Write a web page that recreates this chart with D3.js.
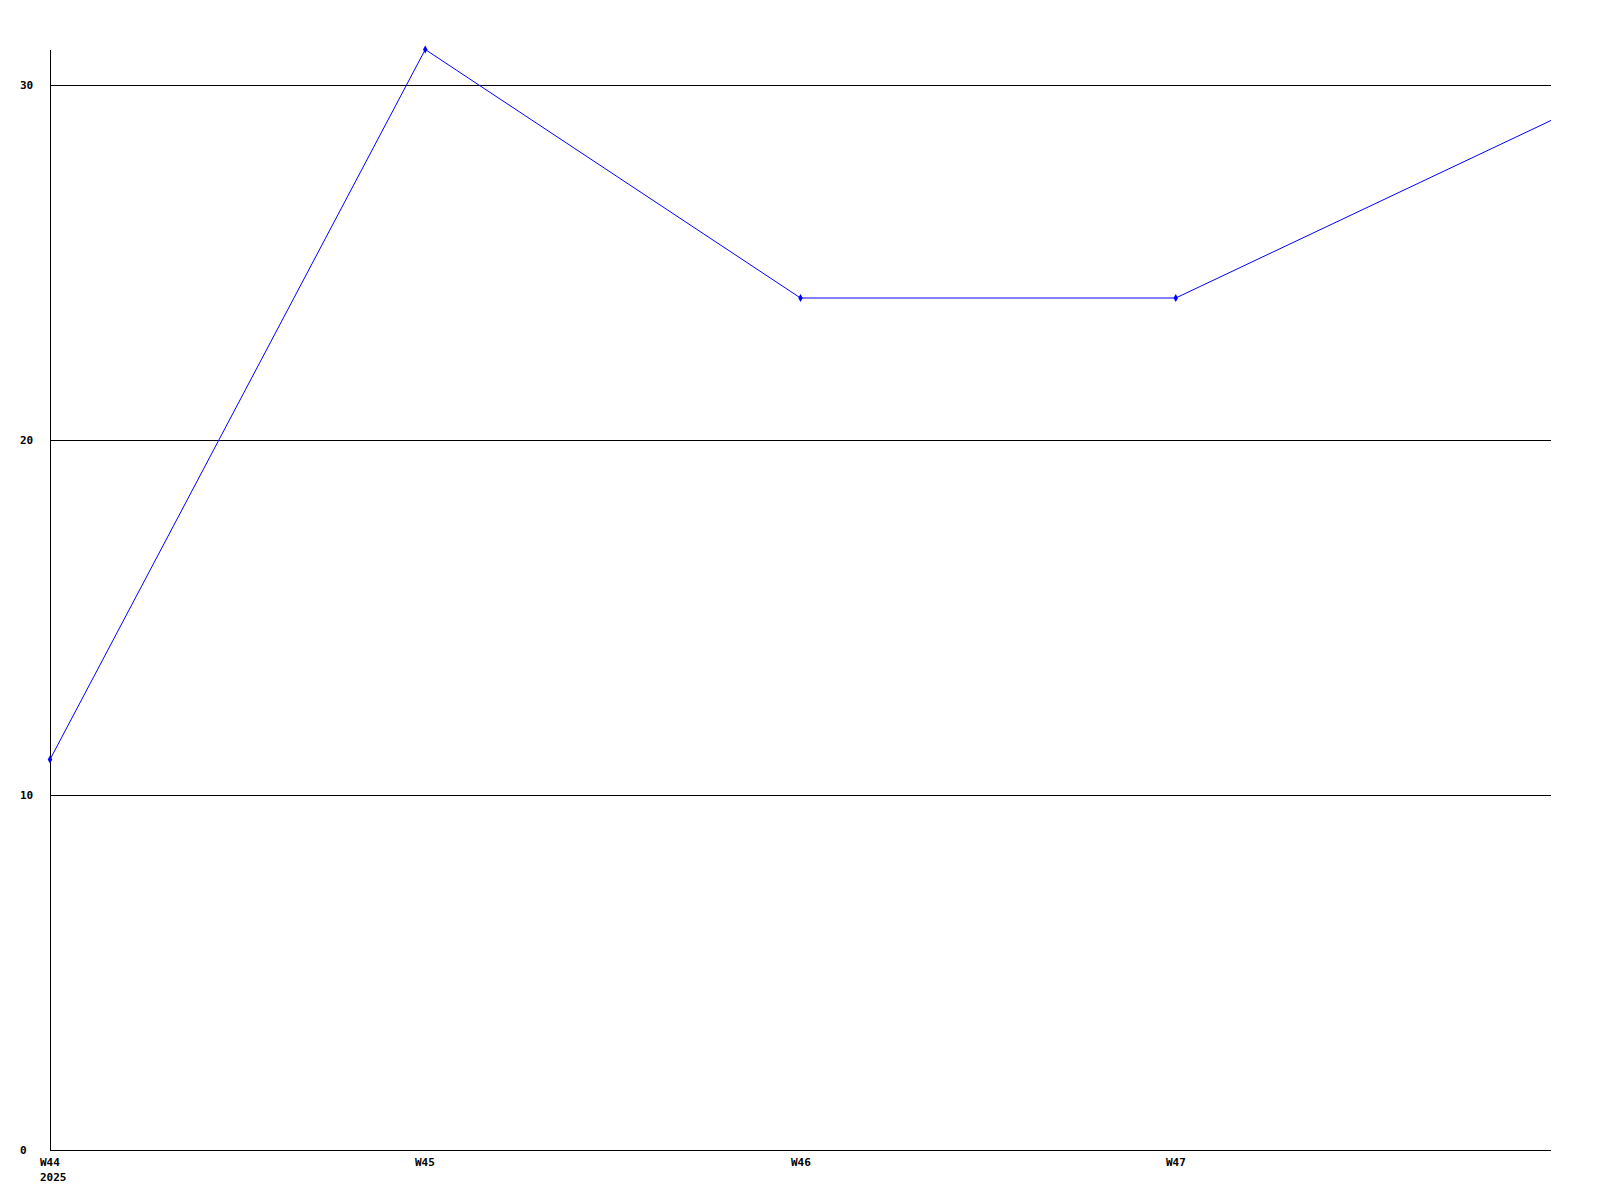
<!DOCTYPE html>
<html><head><meta charset="utf-8">
<script src="https://cdn.jsdelivr.net/npm/d3@7"></script>
<style>body{margin:0;background:#fff}svg{display:block}text{font-family:"DejaVu Sans Mono",monospace;font-size:11px;font-weight:bold;fill:#000}</style>
</head><body>
<script>
const categories = ["W44","W45","W46","W47","W48"];
const values = [11, 31, 24, 24, 29];
const yTicks = [0, 10, 20, 30];
const yearLabel = "2025";

const W = 1600, H = 1200;
const mLeft = 50, mRight = 1551, mTop = 50, mBottom = 1150;
const svg = d3.select("body").append("svg").attr("width", W).attr("height", H);

const x = d3.scaleLinear().domain([0, categories.length - 1]).range([mLeft, mRight]);
const y = d3.scaleLinear().domain([0, 31]).range([mBottom, mBottom - 31 * 35.5]);

// gridlines
svg.append("g").selectAll("line").data(yTicks.filter(d => d > 0)).join("line")
  .attr("x1", mLeft).attr("x2", mRight)
  .attr("y1", d => Math.round(y(d)) + 0.5).attr("y2", d => Math.round(y(d)) + 0.5)
  .attr("stroke", "#000").attr("stroke-width", 1);

// axes
svg.append("line").attr("x1", mLeft + 0.5).attr("x2", mLeft + 0.5).attr("y1", mTop).attr("y2", mBottom + 0.5).attr("stroke", "#000");
svg.append("line").attr("x1", mLeft).attr("x2", mRight).attr("y1", mBottom + 0.5).attr("y2", mBottom + 0.5).attr("stroke", "#000");

// y labels
svg.append("g").selectAll("text").data(yTicks).join("text")
  .attr("x", 20).attr("y", d => Math.round(y(d)) + 4)
  .attr("text-anchor", "start").text(d => d);

// x labels
svg.append("g").selectAll("text").data(categories.slice(0, 4)).join("text")
  .attr("x", (d, i) => Math.round(x(i)) - 10).attr("y", 1166).text(d => d);
svg.append("text").attr("x", 40).attr("y", 1181).text(yearLabel);

// line
const line = d3.line().x((d, i) => x(i)).y(d => y(d));
svg.append("path").datum(values).attr("d", line)
  .attr("fill", "none").attr("stroke", "#0000ff").attr("stroke-width", 1);

// markers
svg.append("g").selectAll("path").data(values.slice(0, 4)).join("path")
  .attr("d", d3.symbol(d3.symbolDiamond, 18))
  .attr("transform", (d, i) => `translate(${x(i)},${y(d)})`)
  .attr("fill", "#0000ff");
</script>
</body></html>
